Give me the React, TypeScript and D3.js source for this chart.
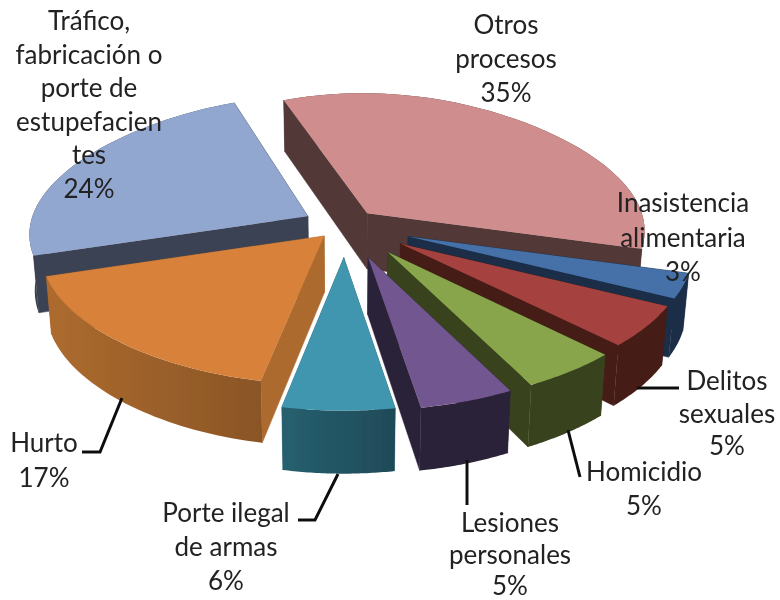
import React from "react";
import * as d3 from "d3";

const categories = ["Otros procesos", "Inasistencia alimentaria", "Delitos sexuales", "Homicidio", "Lesiones personales", "Porte ilegal de armas", "Hurto", "Tráfico, fabricación o porte de estupefacientes"];
const values = [35, 3, 5, 5, 5, 6, 17, 24];
const explosions = [0.12, 0.24, 0.24, 0.25, 0.25, 0.24, 0.11, 0.15];
const topColors = ["#cf8d8d", "#4471a8", "#a5433f", "#88a54c", "#72568f", "#4096ae", "#d8813b", "#92a7cf"];
const wallColors = ["#533838", "#1a2f47", "#451c19", "#38421e", "#2c2238", "#26606f", "#ad6b2e", "#3b4253"];
const rimEnds = ["#533838", "#1a2f47", "#451c19", "#38421e", "#2c2238", "#1f4a58", "#8a5526", "#3b4253"];
const drawOrder = [0, 7, 1, 2, 3, 4, 6, 5];

const labelLines = [
  ["Otros", "procesos", "35%"],
  ["Inasistencia", "alimentaria", "3%"],
  ["Delitos", "sexuales", "5%"],
  ["Homicidio", "5%"],
  ["Lesiones", "personales", "5%"],
  ["Porte ilegal", "de armas", "6%"],
  ["Hurto", "17%"],
  ["Tráfico,", "fabricación o", "porte de", "estupefacien", "tes", "24%"],
];
const labelAnchors = [
  [506, 34, 34], [683, 212, 34.5], [727, 390, 32.5], [644, 481, 33.5], [510, 532, 31.5], [226, 522, 34], [44, 452, 34.5], [89, 30, 33.6],
];
const leaders = [
  [[637, 388], [679, 388]],
  [[568, 430], [580, 477]],
  [[467, 460], [467, 505]],
  [[338, 474], [315, 520], [298, 520]],
  [[122, 398], [100, 452], [82, 452]],
];

const CX = 345, CY = 225, RX = 278, RY = 133, PERSP = 0.09, DEPTH = 56, SHRINK = 0.983;
const WIDEN_A = 0.132, WIDEN_B = 0.048;
const START = (-20.6 * Math.PI) / 180;

type P = [number, number];
const project = (wx: number, wy: number, lower: boolean): P => {
  const s = 1 / (1 - PERSP * wy);
  const sx = 1 + WIDEN_A * wy - WIDEN_B * wy * wy;
  const x = CX + RX * wx * sx;
  const y = CY + RY * wy * s;
  return lower ? [CX + (x - CX) * SHRINK, y + DEPTH * s] : [x, y];
};

const pieGen = d3.pie<number>().sortValues(null).startAngle(START).endAngle(START + 2 * Math.PI);
const arcs = pieGen(values);
const line = d3.line<P>();

function sliceGeometry(i: number) {
  const a = arcs[i];
  const mid = (a.startAngle + a.endAngle) / 2;
  const ox = explosions[i] * Math.sin(mid);
  const oy = -explosions[i] * Math.cos(mid);
  const thetas = d3.range(0, 41).map((k) => a.startAngle + ((a.endAngle - a.startAngle) * k) / 40);
  const rim = (lower: boolean) => thetas.map((t) => project(ox + Math.sin(t), oy - Math.cos(t), lower));
  return {
    apexTop: project(ox, oy, false),
    apexBottom: project(ox, oy, true),
    rimTop: rim(false),
    rimBottom: rim(true),
  };
}

export default function App() {
  const font = "Lato, 'Open Sans', sans-serif";
  return (
    <svg width={780} height={600} style={{ position: "absolute", left: 0, top: 0, background: "#fff" }}>
      <defs>
        <filter id="soft" x="-5%" y="-5%" width="110%" height="110%">
          <feGaussianBlur stdDeviation="0.6" />
        </filter>
        {categories.map((_, i) => (
          <linearGradient key={i} id={`rim${i}`} x1="0" y1="0" x2="1" y2="0">
            <stop offset="0" stopColor={wallColors[i]} />
            <stop offset="1" stopColor={rimEnds[i]} />
          </linearGradient>
        ))}
      </defs>
      <g filter="url(#soft)">
        {drawOrder.map((i) => {
          const g = sliceGeometry(i);
          const n = g.rimTop.length - 1;
          const wallA = [g.apexTop, g.rimTop[0], g.rimBottom[0], g.apexBottom] as P[];
          const wallB = [g.apexTop, g.rimTop[n], g.rimBottom[n], g.apexBottom] as P[];
          const outer = [...g.rimTop, ...[...g.rimBottom].reverse()] as P[];
          const top = [g.apexTop, ...g.rimTop] as P[];
          return (
            <g key={i}>
              <path d={line(wallA) + "Z"} fill={wallColors[i]} stroke={wallColors[i]} strokeWidth={0.5} />
              <path d={line(wallB) + "Z"} fill={wallColors[i]} stroke={wallColors[i]} strokeWidth={0.5} />
              <path d={line(outer) + "Z"} fill={`url(#rim${i})`} />
              <path d={line(top) + "Z"} fill={topColors[i]} />
            </g>
          );
        })}
        {leaders.map((pts, i) => (
          <path key={i} d={line(pts as P[]) ?? ""} fill="none" stroke="#111" strokeWidth={3} />
        ))}
        {labelLines.map((lines, i) => (
          <text key={i} textAnchor="middle" fontFamily={font} fontSize={26} fill="#222">
            {lines.map((t, j) => (
              <tspan key={j} x={labelAnchors[i][0]} y={labelAnchors[i][1] + j * labelAnchors[i][2]}>
                {t}
              </tspan>
            ))}
          </text>
        ))}
      </g>
    </svg>
  );
}
